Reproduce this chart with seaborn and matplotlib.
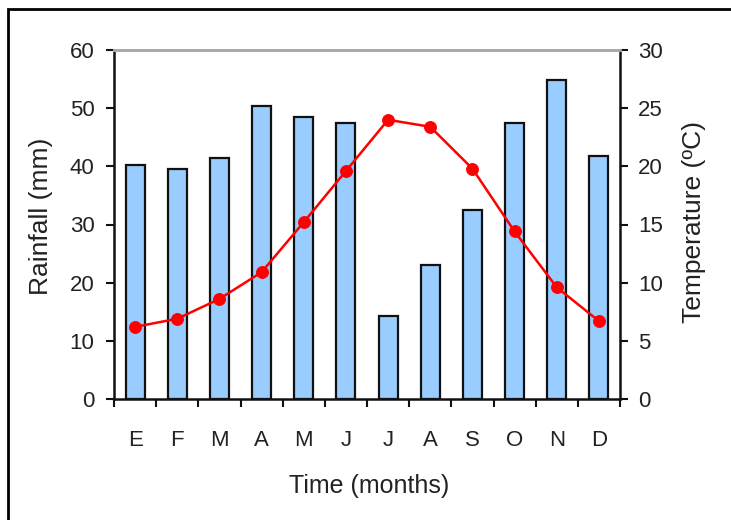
import matplotlib
matplotlib.use("Agg")
import matplotlib.pyplot as plt
import seaborn as sns
import pandas as pd
import numpy as np
from matplotlib.patches import Rectangle

months = ["E", "F", "M", "A", "M", "J", "J", "A", "S", "O", "N", "D"]
rainfall = [40.3, 39.6, 41.4, 50.3, 48.4, 47.4, 14.2, 23.1, 32.5, 47.4, 54.9, 41.7]
temperature = [6.2, 6.9, 8.6, 10.9, 15.2, 19.6, 24.0, 23.4, 19.8, 14.4, 9.6, 6.7]
rain_ticks = [0, 10, 20, 30, 40, 50, 60]
temp_ticks = [0, 5, 10, 15, 20, 25, 30]

sns.set_style("white")
plt.rcParams["font.family"] = ["Liberation Sans", "DejaVu Sans"]
txt = "#222222"

df = pd.DataFrame({"idx": list(range(len(months))), "rain": rainfall, "temp": temperature})

fig = plt.figure(figsize=(7.31, 5.20), dpi=100)
ax = fig.add_axes([114/731, 1-399/520, (620-114)/731, (399-50)/520])

sns.barplot(data=df, x="idx", y="rain", ax=ax, color="#99CCFF", saturation=1,
            edgecolor="#111111", linewidth=1.6, width=0.45)
ax2 = ax.twinx()
sns.lineplot(data=df, x="idx", y="temp", ax=ax2, color="#FF0000", linewidth=1.8,
             marker="o", markersize=8.5, markeredgecolor="#FF0000")

ax.set_xlim(-0.5, 11.5)
ax.set_ylim(0, 60)
ax2.set_ylim(0, 30)
ax.set_yticks(rain_ticks)
ax.set_yticklabels([str(v) for v in rain_ticks])
ax2.set_yticks(temp_ticks)
ax2.set_yticklabels([str(v) for v in temp_ticks])

ax.set_xticks(np.arange(-0.5, 12, 1.0))
ax.set_xticklabels([])
ax.set_xticks(np.arange(12), minor=True)
ax.set_xticklabels(months, minor=True)
ax.tick_params(axis="x", which="major", direction="out", length=6, width=1.5, color="#111111", bottom=True)
ax.tick_params(axis="x", which="minor", length=0, pad=22, labelsize=16, labelcolor=txt)
ax.tick_params(axis="y", direction="out", length=6, width=1.5, color="#111111", left=True, pad=8,
               labelsize=16, labelcolor=txt)
ax2.tick_params(axis="y", direction="out", length=6, width=1.5, color="#111111", right=True, pad=7,
                labelsize=16, labelcolor=txt)

for a in (ax, ax2):
    for s in ("left", "right", "bottom"):
        a.spines[s].set_color("#111111")
        a.spines[s].set_linewidth(1.8)
    a.spines["top"].set_color("#AAAAAA")
    a.spines["top"].set_linewidth(2)
ax.spines["right"].set_visible(False)
ax2.spines["left"].set_visible(False)
ax2.spines["bottom"].set_visible(False)

ax.set_xlabel("Time (months)", fontsize=18, color=txt)
ax.xaxis.set_label_coords(0.504, -0.215)
ax.set_ylabel("Rainfall (mm)", fontsize=19, color=txt)
ax.yaxis.set_label_coords(-0.12, 0.524)
ax2.set_ylabel("Temperature (ºC)", fontsize=19, color=txt)
ax2.yaxis.set_label_coords(1.1225, 0.506)
ax2.set_xlabel("")

fig.patches.append(Rectangle((8/731, -0.1), 1.2, 1-9/520+0.1, transform=fig.transFigure,
                             fill=False, edgecolor="black", linewidth=2))

fig.savefig("out.png", dpi=100)
